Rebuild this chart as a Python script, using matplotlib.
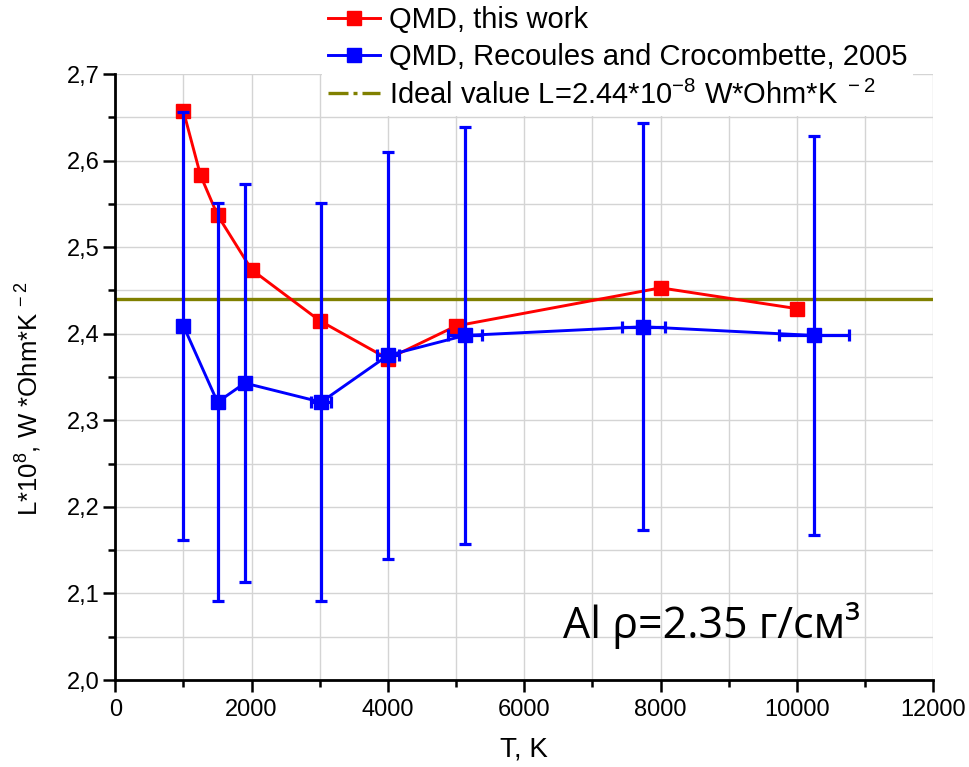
import matplotlib
matplotlib.use("Agg")
import matplotlib.pyplot as plt
from matplotlib.lines import Line2D
from matplotlib.ticker import MultipleLocator, FuncFormatter

plt.rcParams['font.family'] = ['Liberation Sans', 'DejaVu Sans']
plt.rcParams['mathtext.fontset'] = 'custom'
plt.rcParams['mathtext.rm'] = 'Liberation Sans'
plt.rcParams['mathtext.default'] = 'regular'

# QMD, this work
t_this = [1000, 1250, 1500, 2000, 3000, 4000, 5000, 8000, 10000]
L_this = [2.657, 2.583, 2.537, 2.474, 2.415, 2.371, 2.409, 2.453, 2.429]

# QMD, Recoules and Crocombette, 2005
t_rec = [1000, 1500, 1900, 3020, 4000, 5130, 7750, 10250]
L_rec = [2.409, 2.321, 2.343, 2.321, 2.375, 2.398, 2.408, 2.398]
L_rec_err = [0.247, 0.230, 0.230, 0.230, 0.235, 0.241, 0.235, 0.230]
t_rec_err = [0, 0, 0, 145, 160, 250, 310, 515]

L_ideal = 2.44

fig = plt.figure(figsize=(9.69, 7.67), dpi=100)
ax = fig.add_axes([0.119, 0.1134, 0.844, 0.7901])

ax.axhline(L_ideal, color='#808000', lw=2.4, zorder=1.5)
ax.plot(t_this, L_this, color='red', lw=2.1, marker='s', ms=10,
        mec='red', zorder=2)
ax.errorbar(t_rec, L_rec, yerr=L_rec_err, xerr=t_rec_err, color='blue',
            lw=2.1, elinewidth=2.3, capsize=4.6, capthick=2.3,
            marker='s', ms=10, mec='blue', zorder=3)

ax.set_xlim(0, 12000)
ax.set_ylim(2.0, 2.7)
ax.xaxis.set_major_locator(MultipleLocator(2000))
ax.xaxis.set_minor_locator(MultipleLocator(1000))
ax.yaxis.set_major_locator(MultipleLocator(0.1))
ax.yaxis.set_minor_locator(MultipleLocator(0.05))
ax.yaxis.set_major_formatter(FuncFormatter(lambda v, p: ('%.1f' % v).replace('.', ',')))
ax.grid(which='both', color='#d4d4d4', lw=1.0, zorder=0)
ax.set_axisbelow(True)

for s in ['top', 'right']:
    ax.spines[s].set_visible(False)
for s in ['left', 'bottom']:
    ax.spines[s].set_linewidth(2.0)
ax.tick_params(which='major', direction='out', length=8.5, width=1.8)
ax.tick_params(which='minor', direction='out', length=5, width=1.8)
ax.tick_params(axis='y', which='major', pad=2.5, labelsize=17)
ax.tick_params(axis='x', which='major', pad=5.5, labelsize=17)

ax.set_xlabel('T, K', fontsize=20)
ax.xaxis.set_label_coords(0.5, -0.094)
ax.set_ylabel(r'L*10$^{8}$, W *Ohm*K$^{\,-2}$', fontsize=18.5)
ax.yaxis.set_label_coords(-0.087, 0.464)

ax.text(0.548, 0.07, 'Al ρ=2.35 г/см³', transform=ax.transAxes,
        fontsize=31, family=['Open Sans', 'DejaVu Sans'], ha='left',
        va='baseline')

handles = [
    Line2D([], [], color='red', lw=2.1, marker='s', ms=10, mec='red'),
    Line2D([], [], color='blue', lw=2.1, marker='s', ms=10, mec='blue'),
    Line2D([], [], color='#808000', lw=2.4, ls=(0, (6, 1.5, 1.2, 1.5))),
]
labels = ['QMD, this work',
          'QMD, Recoules and Crocombette, 2005',
          r'Ideal value L=2.44*10$^{-8}$ W*Ohm*K$^{\ -2}$']
leg = fig.legend(handles, labels, loc='upper left',
                 bbox_to_anchor=(322 / 969, 1.0), fontsize=21,
                 frameon=True, fancybox=False, framealpha=1.0,
                 edgecolor='none', facecolor='white', borderpad=0.2,
                 borderaxespad=0, handlelength=1.8, handletextpad=0.3,
                 labelspacing=0.32, numpoints=1)
leg.set_zorder(10)

fig.savefig('out.png', dpi=100)
